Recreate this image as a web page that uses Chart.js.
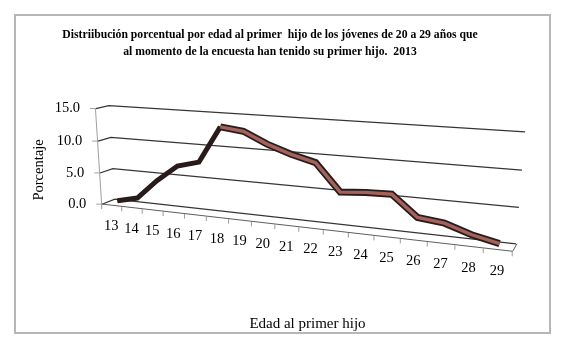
<!DOCTYPE html>
<html>
<head>
<meta charset="utf-8">
<script src="https://cdn.jsdelivr.net/npm/chart.js@4/dist/chart.umd.min.js"></script>
<style>
html,body{margin:0;padding:0;background:#fff;}
#wrap{width:567px;height:350px;position:relative;background:#fff;}
</style>
</head>
<body>
<div id="wrap"><canvas id="c" width="567" height="350"></canvas></div>
<script>
// ---------- data ----------
const categories = ['13','14','15','16','17','18','19','20','21','22','23','24','25','26','27','28','29'];
const porcentaje = [0.3, 1.1, 4.2, 6.8, 7.7, 13.2, 12.8, 11.2, 10.0, 9.1, 5.2, 5.5, 5.6, 2.7, 2.3, 1.1, 0.3];
const yTickValues = [0, 5, 10, 15];
const titleLines = [
  'Distriibución porcentual por edad al primer  hijo de los jóvenes de 20 a 29 años que',
  'al momento de la encuesta han tenido su primer hijo.  2013'
];
const xTitle = 'Edad al primer hijo';
const yTitle = 'Porcentaje';

// ---------- pseudo-3D perspective planes (corners: u0v0, u1v0, u1v1, u0v1) ----------
const frontQuad = [[101.3,204],[511.7,251.3],[521,136],[95,108.5]];
const backQuad  = [[114,199],[516,243.7],[525,131.7],[108,105.5]];
const midQuad = frontQuad.map((p,i)=>[(p[0]+backQuad[i][0])/2,(p[1]+backQuad[i][1])/2]);

function homography(q){
  const [x0,y0]=q[0],[x1,y1]=q[1],[x2,y2]=q[2],[x3,y3]=q[3];
  const sx=x0-x1+x2-x3, sy=y0-y1+y2-y3;
  const dx1=x1-x2, dx2=x3-x2, dy1=y1-y2, dy2=y3-y2;
  const den=dx1*dy2-dy1*dx2;
  const g=(sx*dy2-sy*dx2)/den, h=(dx1*sy-dy1*sx)/den;
  const a=x1-x0+g*x1, b=x3-x0+h*x3, c=x0, d=y1-y0+g*y1, e=y3-y0+h*y3, f=y0;
  return (u,v)=>{const w=g*u+h*v+1;return [(a*u+b*v+c)/w,(d*u+e*v+f)/w];};
}
const H = {front: homography(frontQuad), back: homography(backQuad), mid: homography(midQuad)};
const P = {mode:null, seg:null, chart:null};

function mapPt(plane, x, y){
  const A = P.chart.chartArea;
  const cx = Math.min(Math.max(x, A.left), A.right);
  const cy = Math.min(Math.max(y, A.top), A.bottom);
  const u = (cx - A.left)/(A.right - A.left);
  const v = (A.bottom - cy)/(A.bottom - A.top);
  const p = H[plane](u, v);
  return [p[0] + x - cx, p[1] + y - cy];
}
function tp(ctx, x, y, plane){
  const m = ctx.getTransform();
  const d = m.transformPoint(new DOMPoint(x,y));
  const q = mapPt(plane, d.x, d.y);
  const r = m.inverse().transformPoint(new DOMPoint(q[0], q[1]));
  return [r.x, r.y];
}
function devX(ctx, x, y){ return ctx.getTransform().transformPoint(new DOMPoint(x,y)).x; }

function installCtx(ctx){
  if (ctx.__persp) return;
  ctx.__persp = true;
  const oMove = ctx.moveTo, oLine = ctx.lineTo, oFill = ctx.fillText, oClip = ctx.clip;
  ctx.clip = function(...a){ if (P.mode) return; return oClip.apply(this,a); };
  ctx.moveTo = function(x,y){
    const mode = P.mode;
    if (!mode) return oMove.call(this,x,y);
    const A = P.chart.chartArea;
    if (mode === 'ygrid'){
      if (devX(this,x,y) < A.left - 1){ P.seg='tick'; const q=tp(this,x,y,'front'); return oMove.call(this,q[0],q[1]); }
      P.seg='grid';
      const f=tp(this,x,y,'front'); oMove.call(this,f[0],f[1]);
      const b=tp(this,x,y,'back'); return oLine.call(this,b[0],b[1]);
    }
    const plane = mode==='series' ? 'mid' : 'front';
    const q=tp(this,x,y,plane); return oMove.call(this,q[0],q[1]);
  };
  ctx.lineTo = function(x,y){
    const mode = P.mode;
    if (!mode) return oLine.call(this,x,y);
    const A = P.chart.chartArea;
    if (mode === 'ygrid'){
      const q=tp(this,x,y,P.seg==='tick'?'front':'back'); return oLine.call(this,q[0],q[1]);
    }
    if (mode === 'xborder'){
      const q=tp(this,x,y,'front'); oLine.call(this,q[0],q[1]);
      if (devX(this,x,y) >= A.right - 2){ const b=tp(this,x,y,'back'); oLine.call(this,b[0],b[1]); }
      return;
    }
    const plane = mode==='series' ? 'mid' : 'front';
    const q=tp(this,x,y,plane); return oLine.call(this,q[0],q[1]);
  };
  ctx.fillText = function(t,x,y,mw){
    if (!P.mode) return oFill.call(this,t,x,y,mw);
    const m = this.getTransform();
    const d = m.transformPoint(new DOMPoint(x,y));
    const q = mapPt(P.mode==='series'?'mid':'front', d.x, d.y);
    this.save();
    this.setTransform(m.a,m.b,m.c,m.d,m.e+q[0]-d.x,m.f+q[1]-d.y);
    const r = (mw===undefined) ? oFill.call(this,t,x,y) : oFill.call(this,t,x,y,mw);
    this.restore();
    return r;
  };
}
function patch(scale, name, mode){
  const cur = scale[name];
  if (cur.__persp) return;
  const orig = cur;
  const f = function(...args){ const prev=P.mode; P.mode=mode; try { return orig.apply(this,args); } finally { P.mode=prev; } };
  f.__persp = true;
  scale[name] = f;
}

const perspPlugin = {
  id: 'persp',
  beforeDraw(chart){
    P.chart = chart;
    const ctx = chart.ctx;
    installCtx(ctx);
    const x = chart.scales.x, y = chart.scales.y;
    patch(y,'drawGrid','ygrid'); patch(y,'drawBorder','front'); patch(y,'drawLabels','front');
    patch(x,'drawGrid','front'); patch(x,'drawBorder','xborder'); patch(x,'drawLabels','front');
    // outer frame
    ctx.save();
    ctx.fillStyle = '#ffffff';
    ctx.fillRect(0,0,chart.width,chart.height);
    ctx.strokeStyle = '#b7b7b7';
    ctx.lineWidth = 2;
    ctx.strokeRect(15,15,535,318);
    ctx.restore();
  },
  beforeDatasetsDraw(){ P.mode = 'series'; },
  afterDatasetsDraw(){ P.mode = null; }
};

const DARK = '#2a1b1b';
const RIBBON = '#a4625c';
const rising = c => c.p1.parsed.y > c.p0.parsed.y + 0.3;
const serif = 'Liberation Serif, "Times New Roman", serif';

new Chart(document.getElementById('c'), {
  type: 'line',
  data: {
    labels: categories,
    datasets: [
      { label: 'Porcentaje', data: porcentaje, borderColor: RIBBON, borderWidth: 3.4,
        pointRadius: 0, tension: 0, clip: false, borderJoinStyle: 'miter',
        segment: { borderColor: c => rising(c) ? DARK : undefined } },
      { label: 'Porcentaje (borde)', data: porcentaje, borderColor: DARK, borderWidth: 7,
        pointRadius: 0, tension: 0, clip: false, borderJoinStyle: 'miter',
        segment: { borderWidth: c => rising(c) ? 5 : undefined } }
    ]
  },
  options: {
    responsive: false,
    devicePixelRatio: 1,
    animation: false,
    layout: { padding: { left: 20, right: 47, top: 0, bottom: 17 } },
    plugins: {
      legend: { display: false },
      tooltip: { enabled: false },
      title: {
        display: true, text: titleLines, color: '#000',
        font: { family: serif, size: 11.7, weight: 'bold', lineHeight: 17/11.7 },
        padding: { top: 26, bottom: 9.5 }
      }
    },
    scales: {
      x: {
        type: 'category', offset: true,
        grid: { offset: true, drawOnChartArea: false, drawTicks: true, tickLength: 5, color: '#9a9a9a', lineWidth: 1 },
        border: { display: true, color: '#5e5e5e', width: 1 },
        ticks: { color: '#000', font: { family: serif, size: 14.5 }, padding: 7.8, autoSkip: false, maxRotation: 0, minRotation: 0 },
        title: { display: true, text: xTitle, color: '#000', font: { family: serif, size: 15 }, padding: { top: 4, bottom: 0 } },
        afterFit: s => { s.height = 62.5; }
      },
      y: {
        min: 0, max: 15,
        afterBuildTicks: s => { s.ticks = yTickValues.map(v => ({ value: v })); },
        grid: { color: '#353535', lineWidth: 1.25, tickLength: 5, tickColor: '#a0a0a0', tickWidth: 1 },
        border: { display: true, color: '#a0a0a0', width: 1 },
        ticks: { color: '#000', font: { family: serif, size: 14.5 }, padding: 10, callback: v => Number(v).toFixed(1) },
        title: { display: true, text: yTitle, color: '#000', font: { family: serif, size: 14.5 }, padding: { top: 10.6, bottom: 0 } },
        afterFit: s => { s.width = 75; }
      }
    }
  },
  plugins: [perspPlugin]
});
</script>
</body>
</html>
